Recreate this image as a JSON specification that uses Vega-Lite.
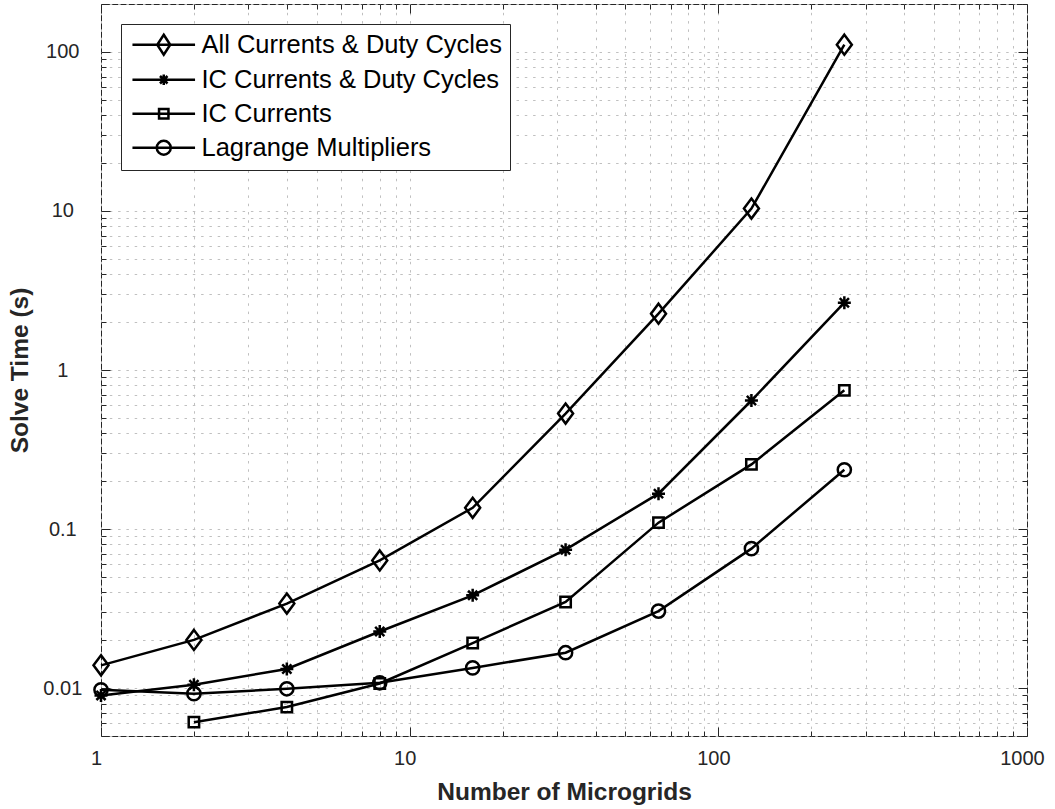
{
  "$schema": "https://vega.github.io/schema/vega-lite/v6.json",
  "width": 926,
  "height": 732,
  "autosize": "none",
  "padding": {"left": 101, "top": 4, "right": 28, "bottom": 73},
  "background": "white",
  "config": {
    "view": {"stroke": "#262626", "strokeWidth": 1},
    "font": "Liberation Sans",
    "legend": {
      "orient": "top-left",
      "offset": 20,
      "padding": 8,
      "strokeColor": "#262626",
      "fillColor": "white",
      "cornerRadius": 0,
      "labelFont": "Liberation Sans",
      "labelFontSize": 25.5,
      "labelColor": "black",
      "labelOffset": 25,
      "symbolOffset": 22,
      "rowPadding": 7,
      "symbolStrokeWidth": 2.5,
      "symbolStrokeColor": "black",
      "symbolOpacity": 1,
      "symbolSize": 400,
      "labelLimit": 500
    }
  },
  "datasets": {
    "solve": [
      {"series": "All Currents & Duty Cycles", "microgrids": 1, "time": 0.0139},
      {"series": "All Currents & Duty Cycles", "microgrids": 2, "time": 0.0201},
      {"series": "All Currents & Duty Cycles", "microgrids": 4, "time": 0.034},
      {"series": "All Currents & Duty Cycles", "microgrids": 8, "time": 0.0635},
      {"series": "All Currents & Duty Cycles", "microgrids": 16, "time": 0.136},
      {"series": "All Currents & Duty Cycles", "microgrids": 32, "time": 0.532},
      {"series": "All Currents & Duty Cycles", "microgrids": 64, "time": 2.26},
      {"series": "All Currents & Duty Cycles", "microgrids": 128, "time": 10.35},
      {"series": "All Currents & Duty Cycles", "microgrids": 256, "time": 111},
      {"series": "IC Currents & Duty Cycles", "microgrids": 1, "time": 0.009},
      {"series": "IC Currents & Duty Cycles", "microgrids": 2, "time": 0.0105},
      {"series": "IC Currents & Duty Cycles", "microgrids": 4, "time": 0.0132},
      {"series": "IC Currents & Duty Cycles", "microgrids": 8, "time": 0.0227},
      {"series": "IC Currents & Duty Cycles", "microgrids": 16, "time": 0.0383},
      {"series": "IC Currents & Duty Cycles", "microgrids": 32, "time": 0.0742},
      {"series": "IC Currents & Duty Cycles", "microgrids": 64, "time": 0.167},
      {"series": "IC Currents & Duty Cycles", "microgrids": 128, "time": 0.643},
      {"series": "IC Currents & Duty Cycles", "microgrids": 256, "time": 2.65},
      {"series": "IC Currents", "microgrids": 2, "time": 0.00611},
      {"series": "IC Currents", "microgrids": 4, "time": 0.0076},
      {"series": "IC Currents", "microgrids": 8, "time": 0.0107},
      {"series": "IC Currents", "microgrids": 16, "time": 0.0192},
      {"series": "IC Currents", "microgrids": 32, "time": 0.0348},
      {"series": "IC Currents", "microgrids": 64, "time": 0.1097},
      {"series": "IC Currents", "microgrids": 128, "time": 0.255},
      {"series": "IC Currents", "microgrids": 256, "time": 0.745},
      {"series": "Lagrange Multipliers", "microgrids": 1, "time": 0.00977},
      {"series": "Lagrange Multipliers", "microgrids": 2, "time": 0.00923},
      {"series": "Lagrange Multipliers", "microgrids": 4, "time": 0.0099},
      {"series": "Lagrange Multipliers", "microgrids": 8, "time": 0.0108},
      {"series": "Lagrange Multipliers", "microgrids": 16, "time": 0.0134},
      {"series": "Lagrange Multipliers", "microgrids": 32, "time": 0.0167},
      {"series": "Lagrange Multipliers", "microgrids": 64, "time": 0.0305},
      {"series": "Lagrange Multipliers", "microgrids": 128, "time": 0.0753},
      {"series": "Lagrange Multipliers", "microgrids": 256, "time": 0.236}
    ]
  },
  "data": {"name": "solve"},
  "layer": [
    {
      "mark": {"type": "line", "color": "black", "strokeWidth": 2.5},
      "encoding": {
        "x": {
          "field": "microgrids", "type": "quantitative",
          "scale": {"type": "log", "domain": [1, 1000], "nice": false},
          "axis": {
            "orient": "bottom",
            "values": [1,2,3,4,5,6,7,8,9,10,20,30,40,50,60,70,80,90,100,200,300,400,500,600,700,800,900,1000],
            "grid": true, "gridColor": "#c0c0c0", "gridDash": [2.5, 5.8], "gridWidth": 1,
            "domain": false,
            "tickColor": "#262626", "tickWidth": 1,
            "tickSize": {"condition": {"test": "indexof([1,10,100,1000], datum.value) >= 0", "value": -9}, "value": -5},
            "labelExpr": "indexof([1,10,100,1000], datum.value) >= 0 ? datum.value + '' : ''",
            "labelFont": "Liberation Sans", "labelFontSize": 20, "labelColor": "#262626",
            "labelPadding": 21, "labelOffset": -5, "labelFlush": false, "labelOverlap": false, "labelBound": false,
            "title": "Number of Microgrids",
            "titleFont": "Liberation Sans", "titleFontSize": 24.5, "titleFontWeight": "bold", "titleColor": "#262626",
            "titlePadding": 8
          }
        },
        "y": {
          "field": "time", "type": "quantitative",
          "scale": {"type": "log", "domain": [0.005, 200], "nice": false},
          "axis": {
            "orient": "left",
            "values": [0.005,0.006,0.007,0.008,0.009,0.01,0.02,0.03,0.04,0.05,0.06,0.07,0.08,0.09,0.1,0.2,0.3,0.4,0.5,0.6,0.7,0.8,0.9,1,2,3,4,5,6,7,8,9,10,20,30,40,50,60,70,80,90,100,200],
            "grid": true, "gridColor": "#c0c0c0", "gridDash": [2.5, 5.8], "gridWidth": 1,
            "domain": false,
            "tickColor": "#262626", "tickWidth": 1,
            "tickSize": {"condition": {"test": "indexof([0.01,0.1,1,10,100], datum.value) >= 0", "value": -9}, "value": -5},
            "labelExpr": "indexof([0.01,0.1,1,10,100], datum.value) >= 0 ? datum.value + '' : ''",
            "labelFont": "Liberation Sans", "labelFontSize": 20, "labelColor": "#262626",
            "labelAlign": "center", "labelBaseline": "middle",
            "labelPadding": 47.7, "labelFlush": false, "labelOverlap": false, "labelBound": false,
            "title": "Solve Time (s)",
            "titleFont": "Liberation Sans", "titleFontSize": 24.5, "titleFontWeight": "bold", "titleColor": "#262626",
            "titlePadding": 10
          }
        },
        "detail": {"field": "series"}
      }
    },
    {
      "mark": {"type": "point", "filled": false, "color": "black", "strokeWidth": 2.5, "size": 400, "opacity": 1},
      "encoding": {
        "x": {
          "field": "microgrids", "type": "quantitative",
          "axis": {
            "orient": "top",
            "values": [1,2,3,4,5,6,7,8,9,10,20,30,40,50,60,70,80,90,100,200,300,400,500,600,700,800,900,1000],
            "grid": false, "domain": false, "labels": false, "title": null,
            "tickColor": "#262626", "tickWidth": 1,
            "tickSize": {"condition": {"test": "indexof([1,10,100,1000], datum.value) >= 0", "value": -9}, "value": -5}
          }
        },
        "y": {
          "field": "time", "type": "quantitative",
          "axis": {
            "orient": "right",
            "values": [0.005,0.006,0.007,0.008,0.009,0.01,0.02,0.03,0.04,0.05,0.06,0.07,0.08,0.09,0.1,0.2,0.3,0.4,0.5,0.6,0.7,0.8,0.9,1,2,3,4,5,6,7,8,9,10,20,30,40,50,60,70,80,90,100,200],
            "grid": false, "domain": false, "labels": false, "title": null,
            "tickColor": "#262626", "tickWidth": 1,
            "tickSize": {"condition": {"test": "indexof([0.01,0.1,1,10,100], datum.value) >= 0", "value": -9}, "value": -5}
          }
        },
        "shape": {
          "field": "series", "type": "nominal",
          "scale": {
            "domain": ["All Currents & Duty Cycles", "IC Currents & Duty Cycles", "IC Currents", "Lagrange Multipliers"],
            "range": [
              "M0,-1L0.75,0L0,1L-0.75,0Z",
              "M-0.65,0L0.65,0M0,-0.65L0,0.65M-0.46,-0.46L0.46,0.46M-0.46,0.46L0.46,-0.46",
              "M-0.52,-0.52L0.52,-0.52L0.52,0.52L-0.52,0.52Z",
              "M-0.66,0A0.66,0.66,0,1,0,0.66,0A0.66,0.66,0,1,0,-0.66,0Z"
            ]
          },
          "legend": null
        }
      }
    },
    {
      "transform": [{"filter": "false"}],
      "mark": {"type": "point", "filled": false, "color": "black", "strokeWidth": 2.5, "size": 400, "opacity": 1},
      "encoding": {
        "x": {"field": "microgrids", "type": "quantitative", "axis": null},
        "y": {"field": "time", "type": "quantitative", "axis": null},
        "shape": {
          "field": "series", "type": "nominal",
          "scale": {
            "domain": ["All Currents & Duty Cycles", "IC Currents & Duty Cycles", "IC Currents", "Lagrange Multipliers"],
            "range": [
              "M-3.13,0L3.13,0M0,-1L0.65,0L0,1L-0.65,0Z",
              "M-3.13,0L3.13,0M-0.53,0L0.53,0M0,-0.53L0,0.53M-0.375,-0.375L0.375,0.375M-0.375,0.375L0.375,-0.375",
              "M-3.13,0L3.13,0M-0.47,-0.47L0.47,-0.47L0.47,0.47L-0.47,0.47Z",
              "M-3.13,0L3.13,0M-0.7,0A0.7,0.7,0,1,0,0.7,0A0.7,0.7,0,1,0,-0.7,0Z"
            ]
          },
          "legend": {"title": null, "symbolOpacity": 1, "symbolStrokeWidth": 2.5, "symbolStrokeColor": "black"}
        }
      }
    }
  ],
  "resolve": {
    "scale": {"shape": "independent"},
    "axis": {"x": "independent", "y": "independent"}
  }
}
